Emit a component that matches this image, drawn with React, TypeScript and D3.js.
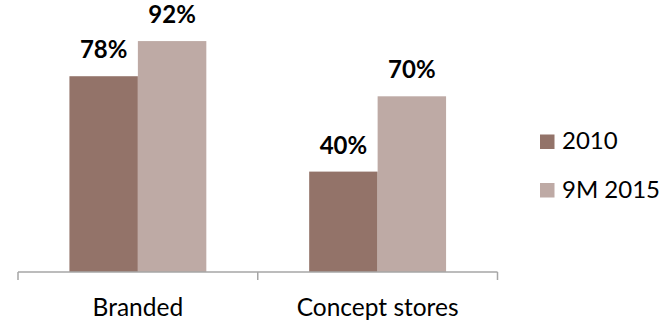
import React from "react";
import * as d3 from "d3";

const categories = ["Branded", "Concept stores"];
const seriesNames = ["2010", "9M 2015"];
const values2010 = [0.78, 0.4];
const values9M2015 = [0.92, 0.7];
const seriesColors = ["#937369", "#beaaa5"];

const W = 671;
const H = 321;
const FONT = "Lato, 'Open Sans', sans-serif";

export default function App() {
  const x0 = d3.scaleBand<string>().domain(categories).range([18, 497.5]).padding(0);
  const bw = x0.bandwidth();
  const x1 = d3
    .scaleBand<string>()
    .domain(seriesNames)
    .range([bw * 0.2145, bw * (1 - 0.2145)])
    .padding(0);
  const y = d3.scaleLinear().domain([0, 1]).range([272, 21]);
  const seriesValues = [values2010, values9M2015];
  const fmt = d3.format(".0%");

  const ticks = [...categories.map((c) => x0(c)!), x0.range()[1]];

  return (
    <svg
      width={W}
      height={H}
      style={{ position: "absolute", left: 0, top: 0, background: "#fff" }}
      fontFamily={FONT}
    >
      {categories.map((cat, ci) =>
        seriesNames.map((s, si) => {
          const v = seriesValues[si][ci];
          const bx = x0(cat)! + x1(s)!;
          return (
            <g key={cat + s}>
              <rect
                x={bx}
                y={y(v)}
                width={x1.bandwidth()}
                height={y(0) - y(v)}
                fill={seriesColors[si]}
              />
              <text
                x={bx + x1.bandwidth() / 2}
                y={y(v) - 18}
                textAnchor="middle"
                fontWeight="bold"
                fontSize={24}
                fill="#000"
              >
                {fmt(v)}
              </text>
            </g>
          );
        })
      )}
      {/* category axis */}
      <line x1={x0.range()[0]} x2={x0.range()[1]} y1={y(0)} y2={y(0)} stroke="#a6a6a6" strokeWidth={1.5} />
      {ticks.map((t, i) => (
        <line key={i} x1={t} x2={t} y1={y(0)} y2={y(0) + 8} stroke="#a6a6a6" strokeWidth={1.5} />
      ))}
      {categories.map((cat) => (
        <text
          key={cat}
          x={x0(cat)! + bw / 2}
          y={316}
          textAnchor="middle"
          fontSize={24.5}
          fill="#000"
        >
          {cat}
        </text>
      ))}
      {/* legend */}
      {seriesNames.map((s, i) => (
        <g key={s} transform={`translate(540, ${134.5 + i * 48.5})`}>
          <rect width={14.5} height={14.5} fill={seriesColors[i]} />
          <text x={22} y={14.8} fontSize={24} fill="#000">
            {s}
          </text>
        </g>
      ))}
    </svg>
  );
}
